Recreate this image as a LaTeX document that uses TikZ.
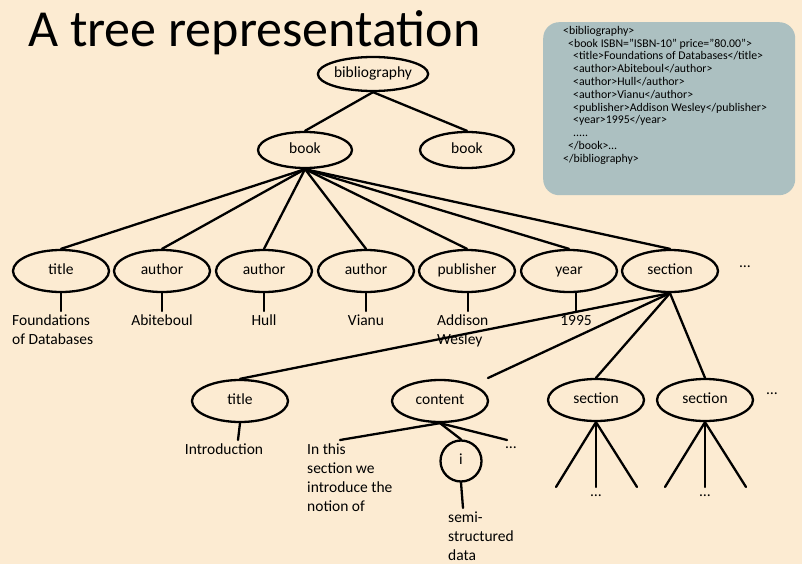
\documentclass[tikz,border=0pt]{standalone}
\usepackage{fontspec}
\setmainfont{Carlito}
\usetikzlibrary{shapes.geometric}
\definecolor{bgcol}{RGB}{252,235,210}
\definecolor{boxcol}{RGB}{172,192,193}
\tikzset{
  ell/.style={ellipse,draw=black,line width=2.3pt,inner sep=0pt,minimum width=96pt,minimum height=42pt,text height=0.75em,text depth=0.1em,font=\fontsize{15.5}{19}\selectfont},
  conn/.style={line width=2.3pt,line cap=round},
  leaf/.style={inner sep=0pt,align=left,font=\fontsize{15.5}{19}\selectfont},
  dots/.style={inner sep=0pt,font=\fontsize{15.5}{19}\selectfont}
}
\begin{document}
\begin{tikzpicture}[x=1pt,y=-1pt]
\fill[bgcol] (0,0) rectangle (802,564);
\useasboundingbox (0,0) rectangle (802,564);
% title
\node[anchor=base west,inner sep=0pt,font=\fontsize{52}{60}\selectfont] (ttl) at (28,47) {A tree representation};
% code box
\node[draw=none,fill=boxcol,rounded corners=16pt,minimum width=252pt,minimum height=173pt,anchor=north west,inner sep=0pt] (box) at (543,22) {};
\node[anchor=north west,inner sep=0pt,align=left,font=\fontsize{11.8}{12.8}\selectfont] (code) at (563,26) {%
<bibliography>\\
\hspace*{5pt}<book ISBN="ISBN-10" price="80.00">\\
\hspace*{10pt}<title>Foundations of Databases</title>\\
\hspace*{10pt}<author>Abiteboul</author>\\
\hspace*{10pt}<author>Hull</author>\\
\hspace*{10pt}<author>Vianu</author>\\
\hspace*{10pt}<publisher>Addison Wesley</publisher>\\
\hspace*{10pt}<year>1995</year>\\
\hspace*{10pt}.....\\
\hspace*{5pt}</book>…\\
</bibliography>};
% tree nodes
\node[ell,minimum width=100pt,minimum height=34pt] (bib) at (373,74) {bibliography};
\node[ell,minimum width=94pt,minimum height=36pt] (book1) at (305,150) {book};
\node[ell,minimum width=94pt,minimum height=36pt] (book2) at (467,150) {book};
\node[ell] (title) at (61,271) {title};
\node[ell] (auth1) at (162,271) {author};
\node[ell] (auth2) at (264,271) {author};
\node[ell] (auth3) at (366,271) {author};
\node[ell] (pub) at (467,271) {publisher};
\node[ell] (year) at (569,271) {year};
\node[ell] (sec) at (670,271) {section};
\node[dots] (d1) at (745,267) {…};
\node[ell] (title2) at (240,401) {title};
\node[ell] (content) at (440,401) {content};
\node[ell] (sec2) at (596,400) {section};
\node[ell] (sec3) at (705,400) {section};
\node[dots] (d2) at (772,394) {…};
\node[circle,draw=black,line width=2.3pt,inner sep=0pt,minimum size=41pt,text height=0.75em,text depth=0.1em,font=\fontsize{15.5}{19}\selectfont] (i) at (461,461) {i};
% edges
\draw[conn] (bib.south) -- (book1.north);
\draw[conn] (bib.south) -- (book2.north);
\foreach \n in {title,auth1,auth2,auth3,pub,year,sec}
  \draw[conn] (book1.south) -- (\n.north);
% leaves level 3
\coordinate (l1) at (61,311);
\coordinate (l2) at (162,311);
\coordinate (l3) at (264,311);
\coordinate (l4) at (366,311);
\coordinate (l5) at (468,311);
\coordinate (l6) at (576,311);
\draw[conn] (title.south) -- (l1);
\draw[conn] (auth1.south) -- (l2);
\draw[conn] (auth2.south) -- (l3);
\draw[conn] (auth3.south) -- (l4);
\draw[conn] (468,292) -- (l5);
\draw[conn] (576,292) -- (l6);
\node[leaf,anchor=north west] (t1) at (12,315) {Foundations\\of Databases};
\node[leaf,anchor=north] (t2) at (162,315) {Abiteboul};
\node[leaf,anchor=north] (t3) at (264,315) {Hull};
\node[leaf,anchor=north] (t4) at (366,315) {Vianu};
\node[leaf,anchor=north west] (t5) at (437,315) {Addison\\Wesley};
\node[leaf,anchor=north] (t6) at (576,315) {1995};
% section children
\coordinate (cend) at (488,378);
\draw[conn] (sec.south) -- (title2.north);
\draw[conn] (sec.south) -- (cend);
\draw[conn] (sec.south) -- (sec2.north);
\draw[conn] (sec.south) -- (sec3.north);
% title2 leaf
\coordinate (l7) at (238,440);
\draw[conn] (title2.south) -- (l7);
\node[leaf,anchor=north] (t7) at (224,444) {Introduction};
% content children
\coordinate (c1) at (340,440);
\coordinate (c3) at (507,440);
\draw[conn] (content.south) -- (c1);
\draw[conn] (content.south) -- (i.north);
\draw[conn] (content.south) -- (c3);
\node[dots] (d3) at (511,448) {…};
\node[leaf,anchor=north west] (t8) at (307,444) {In this\\section we\\introduce the\\notion of};
\coordinate (l9) at (463,508);
\draw[conn] (i.south) -- (l9);
\node[leaf,anchor=north west] (t9) at (448,512) {semi-\\structured\\data};
% sub-sections
\coordinate (s21) at (556,487);
\coordinate (s22) at (596,487);
\coordinate (s23) at (637,487);
\coordinate (s31) at (665,487);
\coordinate (s32) at (705,487);
\coordinate (s33) at (746,487);
\draw[conn] (sec2.south) -- (s21);
\draw[conn] (sec2.south) -- (s22);
\draw[conn] (sec2.south) -- (s23);
\draw[conn] (sec3.south) -- (s31);
\draw[conn] (sec3.south) -- (s32);
\draw[conn] (sec3.south) -- (s33);
\node[dots] (d4) at (596,496) {…};
\node[dots] (d5) at (705,496) {…};
\end{tikzpicture}
\end{document}
